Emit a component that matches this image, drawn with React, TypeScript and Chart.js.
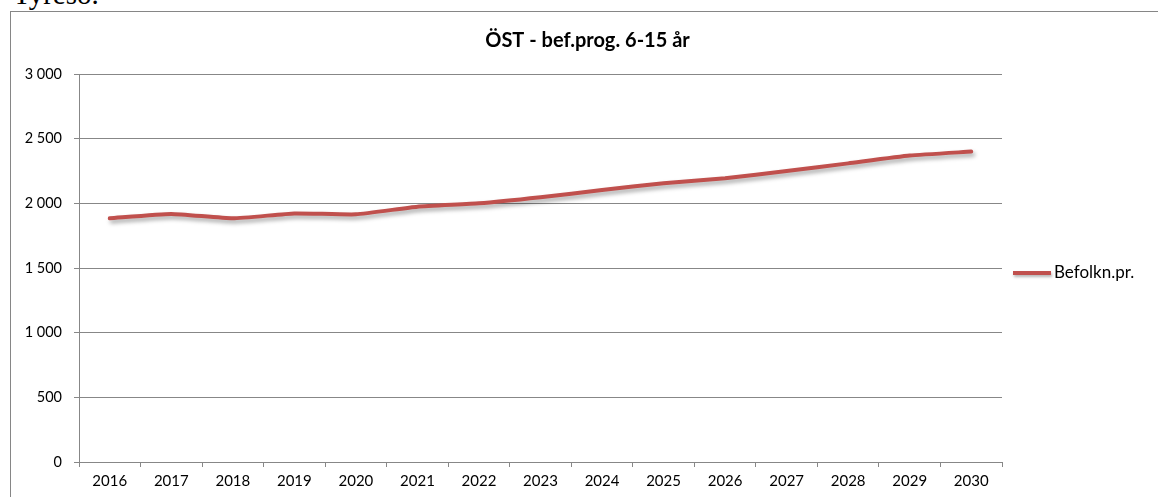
import React, { useEffect, useRef } from "react";
import { Chart, registerables } from "chart.js";

Chart.register(...registerables);

const years = ["2016", "2017", "2018", "2019", "2020", "2021", "2022", "2023", "2024", "2025", "2026", "2027", "2028", "2029", "2030"];
const befolkn = [1884, 1918, 1884, 1922, 1915, 1974, 2000, 2047, 2103, 2155, 2194, 2250, 2309, 2369, 2400];
const seriesLabel = "Befolkn.pr.";
const chartTitle = "ÖST - bef.prog. 6-15 år";
const pageText = "Tyresö.";

const FONT = "Lato, 'Open Sans', sans-serif";
const LINE_COLOR = "#C0504D";
const GRID_COLOR = "#878787";

const fmt = (v: number) => String(v).replace(/\B(?=(\d{3})+(?!\d))/g, " ");

const shadowPlugin = {
  id: "lineShadow",
  beforeDatasetDraw(chart: any) {
    const ctx = chart.ctx;
    ctx.save();
    ctx.shadowColor = "rgba(0,0,0,0.35)";
    ctx.shadowBlur = 4;
    ctx.shadowOffsetX = 2;
    ctx.shadowOffsetY = 3;
  },
  afterDatasetDraw(chart: any) {
    chart.ctx.restore();
  },
};

const decorPlugin = {
  id: "decor",
  afterDraw(chart: any) {
    const ctx = chart.ctx;
    const area = chart.chartArea;
    ctx.save();
    // title
    ctx.fillStyle = "#000";
    ctx.font = `bold 20px ${FONT}`;
    ctx.textAlign = "center";
    ctx.textBaseline = "middle";
    ctx.fillText(chartTitle, chart.width / 2 + 3, 29);
    // legend
    const ly = (area.top + area.bottom) / 2 + 5;
    const lx = area.right + 11;
    ctx.strokeStyle = LINE_COLOR;
    ctx.lineWidth = 4;
    ctx.shadowColor = "rgba(0,0,0,0.3)";
    ctx.shadowBlur = 3;
    ctx.shadowOffsetX = 1;
    ctx.shadowOffsetY = 2;
    ctx.beginPath();
    ctx.moveTo(lx, ly);
    ctx.lineTo(lx + 38, ly);
    ctx.stroke();
    ctx.shadowColor = "transparent";
    ctx.font = `17px ${FONT}`;
    ctx.textAlign = "left";
    ctx.fillStyle = "#000";
    ctx.fillText(seriesLabel, lx + 41, ly);
    ctx.restore();
  },
};

export default function App() {
  const ref = useRef<HTMLCanvasElement | null>(null);

  useEffect(() => {
    if (!ref.current) return;
    const chart = new Chart(ref.current, {
      type: "line",
      data: {
        labels: years,
        datasets: [
          {
            label: seriesLabel,
            data: befolkn,
            borderColor: LINE_COLOR,
            backgroundColor: LINE_COLOR,
            borderWidth: 4,
            pointRadius: 0,
            tension: 0.15,
            borderCapStyle: "round",
            fill: false,
          },
        ],
      },
      options: {
        responsive: false,
        animation: false,
        layout: { padding: { left: 0, top: 62, right: 156, bottom: 0 } },
        plugins: {
          legend: { display: false },
          title: { display: false },
          tooltip: { enabled: false },
        },
        scales: {
          x: {
            offset: true,
            afterFit(scale: any) {
              scale.height = 35;
            },
            grid: {
              display: true,
              drawOnChartArea: false,
              drawTicks: true,
              tickLength: 5,
              color: GRID_COLOR,
              offset: true,
            },
            border: { display: true, color: GRID_COLOR },
            ticks: {
              color: "#000",
              font: { family: FONT, size: 15 },
              padding: 5,
              maxRotation: 0,
              autoSkip: false,
            },
          },
          y: {
            min: 0,
            max: 3000,
            afterFit(scale: any) {
              scale.width = 68;
            },
            grid: {
              color: GRID_COLOR,
              tickLength: 5,
            },
            border: { display: true, color: GRID_COLOR },
            ticks: {
              stepSize: 500,
              color: "#000",
              font: { family: FONT, size: 14.5 },
              padding: 12,
              callback: (v: any) => fmt(Number(v)),
            },
          },
        },
      },
      plugins: [shadowPlugin, decorPlugin],
    });
    return () => chart.destroy();
  }, []);

  return (
    <div style={{ position: "absolute", left: 0, top: 0, width: 1158, height: 497, overflow: "hidden", background: "#fff" }}>
      <div
        style={{
          position: "absolute",
          left: 13,
          top: -20,
          fontFamily: "'Liberation Serif', serif",
          fontSize: 29,
          lineHeight: "29px",
          whiteSpace: "nowrap",
        }}
      >
        {pageText}
      </div>
      <div
        style={{
          position: "absolute",
          left: 10,
          top: 11,
          width: 1160,
          height: 500,
          borderLeft: "1px solid #868686",
          borderTop: "1px solid #868686",
          background: "#fff",
        }}
      >
        <canvas ref={ref} width={1147} height={485} style={{ display: "block" }} />
      </div>
    </div>
  );
}
